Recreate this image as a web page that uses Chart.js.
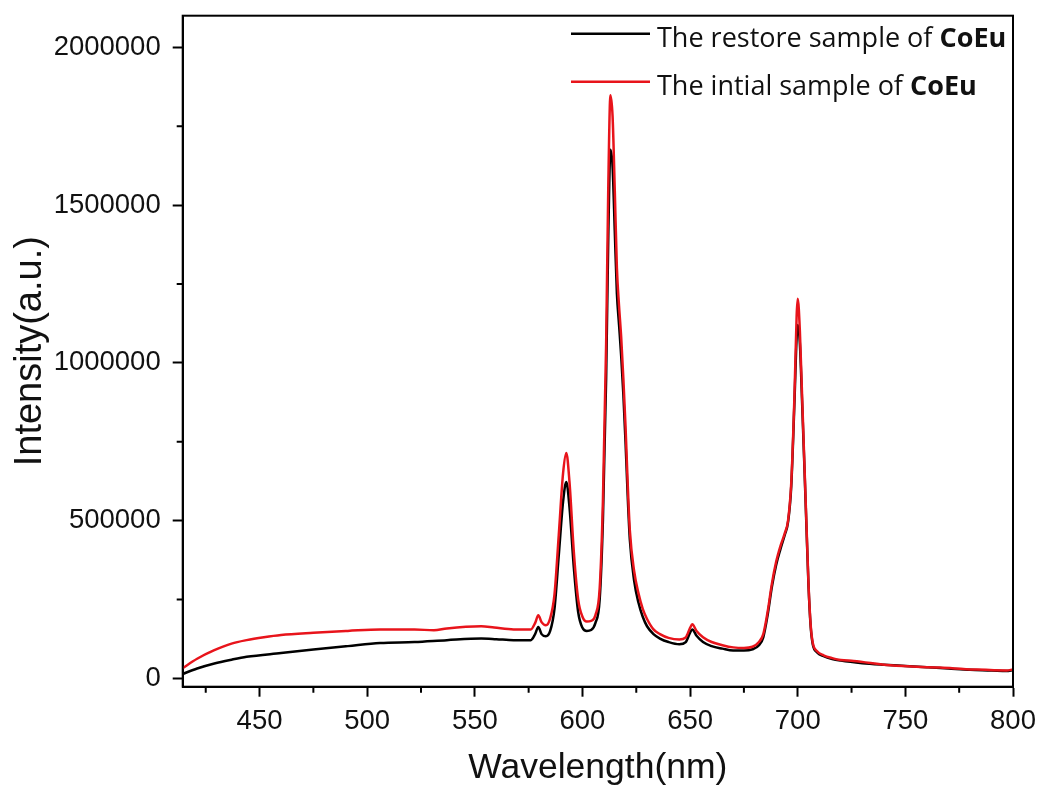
<!DOCTYPE html>
<html><head><meta charset="utf-8">
<script src="https://cdn.jsdelivr.net/npm/chart.js@4/dist/chart.umd.min.js"></script>
<style>html,body{margin:0;padding:0;background:#fff;}#wrap{width:1040px;height:787px;}</style>
</head><body><div id="wrap"><canvas id="c" width="1040" height="787"></canvas></div>
<script>
const wavelengthRestore = [414,421,429,437,444,460,475,491,506,522,537,553,560,568,576,578,579.5,581,583,585,587,589,591,592.5,594,596,598,600,602,604,606,608,609.5,611,612,613,614,615,616,617,618,619,620,621,622,624,626,628,630,633,636,640,645,648,650,651,653,656,660,665,670,675,679,682,684,686,688,690,692,694,695.5,697,698.5,699.5,700,701,702,703,704,705,706,707,709,712,716,720,730,740,750,760,770,780,790,797,800];
const intensityRestore = [13000,31000,47000,59000,68000,80000,91000,102000,112000,115000,121000,126000,124000,121000,121000,140000,163000,140000,133000,150000,220000,390000,560000,622000,540000,350000,210000,160000,150000,153000,175000,250000,500000,950000,1400000,1675000,1620000,1420000,1220000,1120000,1020000,900000,750000,580000,440000,310000,240000,195000,165000,140000,126000,115000,108000,115000,145000,155000,135000,115000,102000,94000,88000,88000,92000,105000,130000,200000,290000,360000,410000,455000,495000,610000,880000,1080000,1120000,1060000,880000,690000,490000,295000,165000,107000,82000,70000,61000,56000,48000,43000,39000,35000,31000,27000,25000,23000,26000];
const wavelengthInitial = [414,421,429,437,444,452,460,475,491,506,522,531,537,553,559,568,576,578,579.5,581,583,585,587,589,591,592.5,594,596,598,600,602,604,606,608,609.5,611,612,613,614,615,616,617,618,619,620,621,622,624,626,628,630,633,636,640,645,648,650,651,653,656,660,665,670,675,679,682,684,686,688,690,692,694,695.5,697,698.5,699.5,700,701,702,703,704,705,706,707,709,712,716,720,726,743,766,782,797,800];
const intensityInitial = [31000,62000,89000,110000,121000,130000,137000,144000,150000,155000,155000,152000,158000,165000,161000,155000,155000,175000,200000,178000,168000,190000,265000,455000,650000,714000,620000,400000,250000,195000,180000,182000,200000,285000,560000,1060000,1560000,1848000,1780000,1550000,1300000,1180000,1080000,950000,800000,620000,470000,340000,270000,220000,188000,155000,140000,128000,123000,130000,160000,171000,150000,130000,115000,105000,98000,96000,100000,115000,140000,210000,300000,370000,420000,460000,500000,620000,900000,1150000,1203000,1100000,900000,700000,500000,300000,170000,112000,86000,73000,64000,58000,55000,41000,34000,28000,25000,28000];
const xTickValues = [450,500,550,600,650,700,750,800];
const xMinorTickValues = [425,475,525,575,625,675,725,775];
const yTickValues = [0,500000,1000000,1500000,2000000];
const yMinorTickValues = [250000,750000,1250000,1750000];
const seriesNames = ['The restore sample of ', 'The intial sample of '];
const seriesBold = ['CoEu', 'CoEu'];
const seriesColors = ['#000000', '#e8141b'];

const toPoints = (xs, ys) => xs.map((x, i) => ({x: x, y: ys[i]}));

const framePlugin = {
  id: 'frame',
  afterDatasetsDraw(chart) {
    const {ctx, chartArea: ca, scales} = chart;
    ctx.save();
    ctx.strokeStyle = '#000';
    ctx.lineWidth = 2;
    ctx.strokeRect(ca.left, ca.top, ca.right - ca.left, ca.bottom - ca.top);
    ctx.beginPath();
    xMinorTickValues.forEach(v => {
      const px = scales.x.getPixelForValue(v);
      ctx.moveTo(px, ca.bottom); ctx.lineTo(px, ca.bottom + 6);
    });
    yMinorTickValues.forEach(v => {
      const py = scales.y.getPixelForValue(v);
      ctx.moveTo(ca.left, py); ctx.lineTo(ca.left - 6, py);
    });
    ctx.stroke();
    ctx.restore();
  },
  afterDraw(chart) {
    const {ctx, chartArea: ca} = chart;
    ctx.save();
    const x1 = ca.right - 442, x2 = ca.right - 363, tx = ca.right - 356;
    const rowY = [ca.top + 18, ca.top + 66];
    seriesNames.forEach((name, i) => {
      ctx.strokeStyle = seriesColors[i];
      ctx.lineWidth = 2.5;
      ctx.beginPath(); ctx.moveTo(x1, rowY[i]); ctx.lineTo(x2, rowY[i]); ctx.stroke();
      ctx.fillStyle = '#111';
      ctx.textBaseline = 'alphabetic';
      ctx.font = '27px "Open Sans"';
      ctx.fillText(name, tx, rowY[i] + 13);
      const w = ctx.measureText(name).width;
      ctx.font = 'bold 27px "Open Sans"';
      ctx.fillText(seriesBold[i], tx + w, rowY[i] + 13);
    });
    ctx.restore();
  }
};

new Chart(document.getElementById('c'), {
  type: 'line',
  data: {
    datasets: [
      {label: seriesNames[0] + seriesBold[0], data: toPoints(wavelengthRestore, intensityRestore), borderColor: seriesColors[0], borderWidth: 2.5, pointRadius: 0, cubicInterpolationMode: 'monotone', order: 1},
      {label: seriesNames[1] + seriesBold[1], data: toPoints(wavelengthInitial, intensityInitial), borderColor: seriesColors[1], borderWidth: 2.5, pointRadius: 0, cubicInterpolationMode: 'monotone', order: 0}
    ]
  },
  options: {
    responsive: false,
    animation: false,
    devicePixelRatio: 1,
    layout: {padding: {top: 15.7, right: 27, left: 0, bottom: 0}},
    plugins: {legend: {display: false}, tooltip: {enabled: false}},
    scales: {
      x: {
        type: 'linear', min: 414.3, max: 800,
        afterBuildTicks: s => { s.ticks = xTickValues.map(v => ({value: v})); },
        afterFit: s => { s.height = 100.3; s.paddingLeft = 0; s.paddingRight = 0; },
        ticks: {font: {family: 'Liberation Sans', size: 27.5}, color: '#111', padding: 8, maxRotation: 0, autoSkip: false, callback: v => String(v)},
        grid: {drawOnChartArea: false, drawTicks: true, tickLength: 10, tickWidth: 2, tickColor: '#000'},
        border: {color: '#000', width: 2},
        title: {display: true, text: 'Wavelength(nm)', color: '#111', font: {family: 'Liberation Sans', size: 35.5}, padding: {top: 0, bottom: -3}}
      },
      y: {
        type: 'linear', min: -26600, max: 2100000,
        afterBuildTicks: s => { s.ticks = yTickValues.map(v => ({value: v})); },
        afterFit: s => { s.width = 182.7; s.paddingTop = 0; s.paddingBottom = 0; },
        ticks: {font: {family: 'Liberation Sans', size: 27.5}, color: '#111', padding: 12, callback: v => String(v)},
        grid: {drawOnChartArea: false, drawTicks: true, tickLength: 10, tickWidth: 2, tickColor: '#000'},
        border: {color: '#000', width: 2},
        title: {display: true, text: 'Intensity(a.u.)', color: '#111', font: {family: 'Liberation Sans', size: 38}, padding: {top: 8, bottom: 0}}
      }
    }
  },
  plugins: [framePlugin]
});
</script></body></html>
